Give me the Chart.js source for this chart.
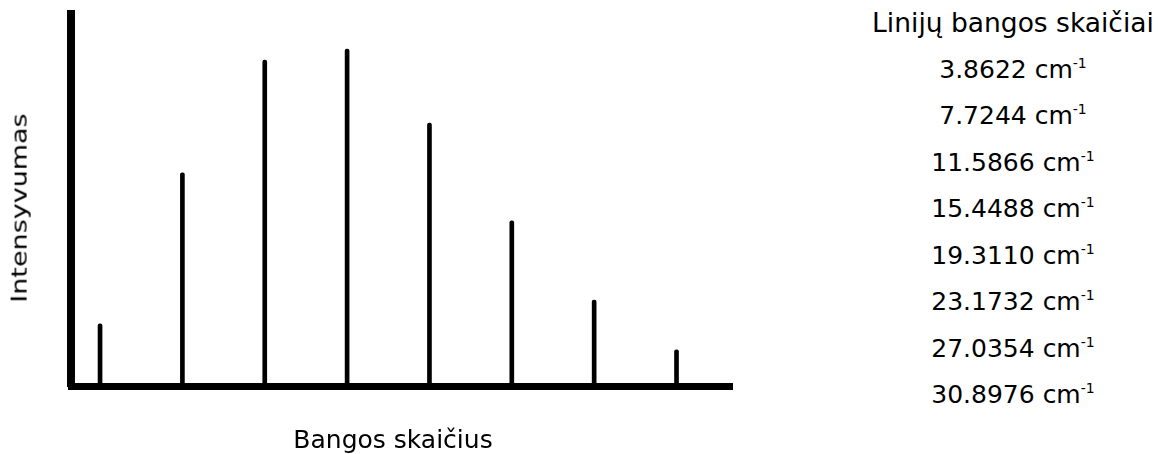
<!DOCTYPE html>
<html lang="lt">
<head>
    <meta charset="UTF-8">
    <title>Linijų bangos skaičiai</title>
    <script src="https://cdn.jsdelivr.net/npm/chart.js@4.4.1/dist/chart.umd.min.js"></script>
    <style>
        body { margin: 0; background: #fff; font-family: "DejaVu Sans", Verdana, sans-serif; color: #000; }
        #wrap { position: relative; width: 1160px; height: 454px; overflow: hidden; }
        #chartBox { position: absolute; left: 0; top: 0; width: 760px; height: 454px; }
        .axisTitle { position: absolute; white-space: nowrap; line-height: normal; }
        #xTitle { left: 393px; top: 425px; font-size: 25px; transform: translateX(-50%); }
        #yTitle { left: 19px; top: 208px; font-size: 27px; transform: translate(-50%, -50%) rotate(-90deg) scaleY(0.8); }
        #lines { position: absolute; left: 1013px; top: 0; transform: translateX(-50%); text-align: center; font-size: 25px; white-space: nowrap; }
        #lines div { line-height: 46.5px; height: 46.5px; }
        #lines .head { font-size: 26.5px; }
        #lines sup { font-size: 14px; vertical-align: 10px; line-height: 0; }
    </style>
</head>
<body>
<div id="wrap">
    <div id="chartBox"><canvas id="spectrum"></canvas></div>
    <div class="axisTitle" id="xTitle">Bangos skaičius</div>
    <div class="axisTitle" id="yTitle">Intensyvumas</div>
    <div id="lines"></div>
</div>

<script>
    // line positions (cm^-1) and relative intensities
    const wavenumbers = [3.8622, 7.7244, 11.5866, 15.4488, 19.3110, 23.1732, 27.0354, 30.8976];
    const intensities = [16.7, 57.3, 87.6, 90.6, 70.7, 44.4, 23.1, 9.7];
    const listTitle = 'Linijų bangos skaičiai';
    const unit = 'cm';

    // right-hand list of line positions
    const lines = document.getElementById('lines');
    lines.innerHTML = `<div class="head">${listTitle}</div>` +
        wavenumbers.map(w => `<div>${w.toFixed(4)} ${unit}<sup>-1</sup></div>`).join('');

    const points = wavenumbers.map((w, i) => ({ x: w, y: intensities[i] }));

    new Chart(document.getElementById('spectrum'), {
        type: 'bar',
        data: {
            datasets: [{
                data: points,
                backgroundColor: '#000',
                barThickness: 4,
                borderRadius: 2
            }]
        },
        options: {
            responsive: true,
            maintainAspectRatio: false,
            animation: false,
            layout: { padding: { left: 71, top: 14, right: 28, bottom: 68 } },
            plugins: { legend: { display: false }, tooltip: { enabled: false } },
            scales: {
                x: {
                    type: 'linear',
                    offset: false,
                    min: 2.5,
                    max: 33.5,
                    grid: { display: false },
                    ticks: { display: false },
                    border: { display: true, color: '#000', width: 7 },
                    afterFit: s => { s.height = 0; }
                },
                y: {
                    min: 0,
                    max: 100,
                    grid: { display: false },
                    ticks: { display: false },
                    border: { display: true, color: '#000', width: 8 },
                    afterFit: s => { s.width = 0; }
                }
            }
        }
    });
</script>
</body>
</html>
